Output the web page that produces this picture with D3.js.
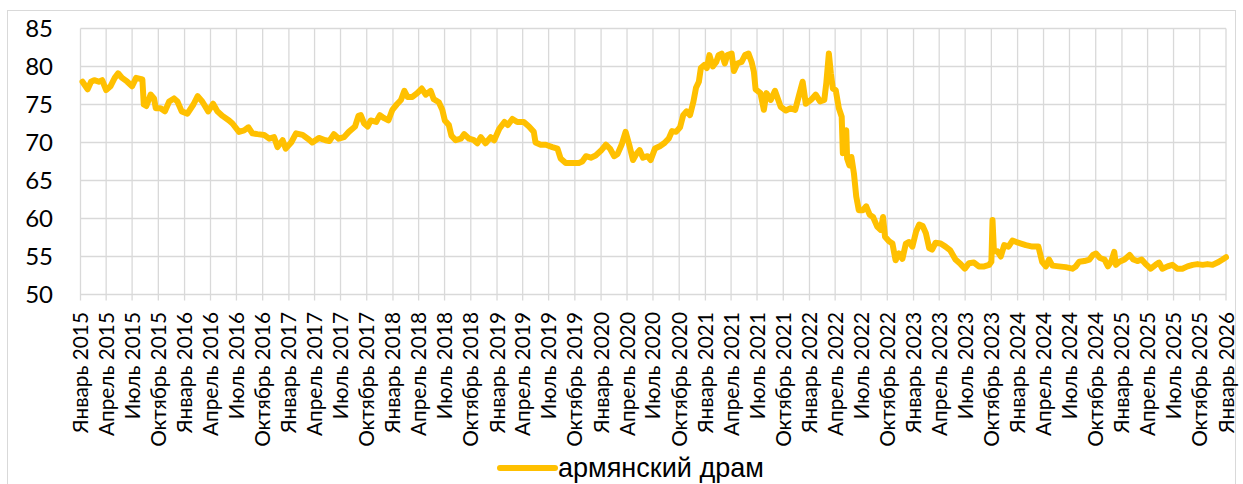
<!DOCTYPE html>
<html><head><meta charset="utf-8">
<script src="https://cdn.jsdelivr.net/npm/d3@7"></script>
<style>html,body{margin:0;padding:0;background:#fff;}svg{display:block;}</style>
</head><body>
<svg id="chart" width="1243" height="484"></svg>
<script>
const seriesName = "армянский драм";
const monthNames = ["Январь","Апрель","Июль","Октябрь"];
const yTicks = [50,55,60,65,70,75,80,85];
const dates = ["2015-01-08","2015-01-26","2015-02-07","2015-02-18","2015-03-06","2015-03-18","2015-04-01","2015-04-16","2015-05-01","2015-05-13","2015-05-27","2015-06-14","2015-07-01","2015-07-15","2015-08-06","2015-08-11","2015-08-20","2015-09-04","2015-09-16","2015-09-22","2015-10-09","2015-10-24","2015-11-08","2015-11-25","2015-12-07","2015-12-22","2016-01-11","2016-02-01","2016-02-16","2016-03-03","2016-03-24","2016-04-10","2016-04-25","2016-05-13","2016-06-05","2016-06-17","2016-07-10","2016-07-28","2016-08-12","2016-08-26","2016-09-13","2016-10-06","2016-10-24","2016-11-10","2016-11-22","2016-12-10","2016-12-21","2017-01-09","2017-01-26","2017-02-18","2017-03-12","2017-03-24","2017-04-16","2017-05-09","2017-05-23","2017-06-08","2017-06-25","2017-07-13","2017-07-30","2017-08-21","2017-09-02","2017-09-10","2017-09-22","2017-10-04","2017-10-15","2017-11-03","2017-11-16","2017-12-01","2017-12-16","2017-12-30","2018-01-14","2018-01-29","2018-02-10","2018-02-21","2018-03-10","2018-03-27","2018-04-12","2018-04-26","2018-05-13","2018-05-24","2018-06-11","2018-06-23","2018-07-02","2018-07-16","2018-07-25","2018-08-09","2018-08-27","2018-09-08","2018-09-25","2018-10-12","2018-10-24","2018-11-05","2018-11-22","2018-12-10","2018-12-22","2019-01-09","2019-01-27","2019-02-08","2019-02-24","2019-03-13","2019-04-05","2019-04-23","2019-05-10","2019-05-16","2019-06-03","2019-06-21","2019-07-14","2019-08-01","2019-08-12","2019-08-30","2019-09-22","2019-10-15","2019-10-27","2019-11-09","2019-11-26","2019-12-13","2019-12-31","2020-01-18","2020-02-01","2020-02-16","2020-02-28","2020-03-13","2020-03-27","2020-04-08","2020-04-22","2020-05-04","2020-05-15","2020-05-27","2020-06-12","2020-06-23","2020-07-08","2020-07-25","2020-08-09","2020-08-25","2020-09-06","2020-09-20","2020-10-04","2020-10-15","2020-10-27","2020-11-08","2020-11-20","2020-11-29","2020-12-09","2020-12-16","2020-12-28","2021-01-06","2021-01-15","2021-01-27","2021-02-08","2021-02-16","2021-02-27","2021-03-10","2021-03-19","2021-04-03","2021-04-11","2021-04-23","2021-05-08","2021-05-20","2021-06-01","2021-06-12","2021-06-20","2021-06-26","2021-07-13","2021-07-25","2021-08-03","2021-08-18","2021-09-02","2021-09-22","2021-10-10","2021-10-27","2021-11-12","2021-11-26","2021-12-08","2021-12-19","2022-01-06","2022-01-23","2022-02-07","2022-02-22","2022-03-01","2022-03-10","2022-03-17","2022-03-24","2022-04-03","2022-04-14","2022-04-24","2022-04-28","2022-05-05","2022-05-10","2022-05-13","2022-05-21","2022-05-28","2022-06-06","2022-06-14","2022-06-23","2022-07-07","2022-07-19","2022-07-31","2022-08-12","2022-08-27","2022-09-08","2022-09-16","2022-09-23","2022-10-07","2022-10-19","2022-10-30","2022-11-11","2022-11-23","2022-12-05","2022-12-16","2022-12-28","2023-01-10","2023-01-21","2023-02-02","2023-02-13","2023-02-25","2023-03-07","2023-03-19","2023-04-06","2023-04-23","2023-05-10","2023-05-28","2023-06-15","2023-06-30","2023-07-14","2023-08-01","2023-08-18","2023-09-06","2023-09-23","2023-10-01","2023-10-05","2023-10-10","2023-10-22","2023-11-03","2023-11-15","2023-11-30","2023-12-14","2023-12-28","2024-01-13","2024-01-30","2024-02-22","2024-03-14","2024-03-27","2024-04-09","2024-04-20","2024-05-02","2024-05-25","2024-06-18","2024-07-11","2024-07-23","2024-08-04","2024-08-22","2024-09-09","2024-09-21","2024-10-02","2024-10-16","2024-11-01","2024-11-13","2024-11-24","2024-12-05","2024-12-11","2024-12-23","2025-01-10","2025-01-28","2025-02-10","2025-02-24","2025-03-11","2025-03-25","2025-04-12","2025-04-29","2025-05-11","2025-05-23","2025-06-10","2025-06-27","2025-07-14","2025-08-01","2025-08-19","2025-09-06","2025-09-23","2025-10-11","2025-10-28","2025-11-15","2025-12-02","2025-12-20","2026-01-01"];
const values = [78.0,77.0,78.0,78.2,78.0,78.2,76.9,77.4,78.5,79.1,78.5,78.0,77.4,78.5,78.3,75.0,74.8,76.3,75.8,74.5,74.5,74.1,75.4,75.8,75.4,74.1,73.8,75.0,76.1,75.4,74.1,75.1,74.1,73.5,72.9,72.5,71.4,71.6,72.0,71.2,71.1,71.0,70.5,70.7,69.4,70.3,69.2,70.0,71.2,71.0,70.4,70.0,70.6,70.3,70.2,71.1,70.5,70.7,71.4,72.1,73.5,73.6,72.5,72.1,72.9,72.7,73.6,73.2,72.9,74.3,75.0,75.6,76.8,76.0,76.0,76.5,77.1,76.3,76.8,75.7,75.3,74.3,72.9,72.3,70.9,70.3,70.5,71.1,70.5,70.3,69.9,70.7,69.9,70.7,70.3,71.8,72.7,72.3,73.1,72.7,72.7,72.1,71.4,70.0,69.7,69.7,69.4,69.2,67.9,67.3,67.3,67.3,67.5,68.2,68.0,68.3,68.9,69.7,69.2,68.2,68.5,69.7,71.4,69.8,67.7,68.5,69.0,68.0,68.2,67.7,69.2,69.5,69.9,70.5,71.5,71.4,72.0,73.6,74.1,73.6,75.4,77.2,78.0,79.8,80.2,79.8,81.5,80.0,80.6,81.5,81.7,80.4,81.5,81.7,79.4,80.4,80.6,81.5,81.7,80.6,79.3,77.0,76.5,74.3,76.5,75.6,76.8,74.7,74.2,74.5,74.3,76.3,78.0,75.1,75.6,76.3,75.4,75.6,77.8,81.7,79.1,77.1,76.9,74.5,73.4,68.6,70.3,71.6,67.9,67.0,68.1,65.9,62.9,61.1,61.1,61.6,60.5,60.2,58.9,58.5,60.2,57.6,57.0,56.7,54.5,55.4,54.7,56.7,56.9,56.3,58.3,59.2,59.0,58.1,56.1,55.9,56.8,56.7,56.3,55.8,54.6,54.0,53.4,54.1,54.2,53.7,53.7,53.9,54.3,59.8,55.7,55.7,55.0,56.5,56.3,57.1,56.9,56.7,56.5,56.3,56.3,54.3,53.7,54.6,53.8,53.7,53.6,53.4,53.7,54.3,54.4,54.6,55.2,55.4,54.8,54.6,53.7,54.3,55.6,53.9,54.3,54.6,55.2,54.6,54.4,54.6,54.0,53.4,53.9,54.2,53.4,53.7,53.9,53.4,53.4,53.7,53.9,54.0,53.9,54.0,53.9,54.2,54.6,54.9];

const parse = d3.timeParse("%Y-%m-%d");
const data = dates.map((d,i)=>({date:parse(d), value:values[i]}));

const svg = d3.select("#chart");
const font = "Lato, 'Open Sans', sans-serif";
const mLeft = 80.5, mRight = 1226, mTop = 28.5, mBottom = 294.5;

// outer border
svg.append("rect").attr("x",7.5).attr("y",10.5).attr("width",1228).attr("height",480)
  .attr("fill","none").attr("stroke","#D9D9D9").attr("stroke-width",1);

const x = d3.scaleTime().domain([new Date(2015,0,1), new Date(2026,0,1)]).range([mLeft,mRight]);
const y = d3.scaleLinear().domain([50,85]).range([mBottom,mTop]);

const xTickDates = d3.timeMonth.every(3).range(new Date(2015,0,1), new Date(2026,0,2));

// horizontal grid
svg.append("g").selectAll("line").data(yTicks).join("line")
  .attr("x1",mLeft).attr("x2",mRight).attr("y1",d=>y(d)).attr("y2",d=>y(d))
  .attr("stroke","#D9D9D9").attr("stroke-width",1.3);
// vertical grid + tick marks
svg.append("g").selectAll("line").data(xTickDates).join("line")
  .attr("x1",d=>x(d)).attr("x2",d=>x(d)).attr("y1",mTop).attr("y2",mBottom+6)
  .attr("stroke","#D9D9D9").attr("stroke-width",1.3);

// y labels
svg.append("g").selectAll("text").data(yTicks).join("text")
  .attr("x",53).attr("y",d=>y(d)).attr("dy","0.35em").attr("text-anchor","end")
  .attr("font-family",font).attr("font-size",24).attr("fill","#000").text(d=>d);

// x labels (size fitted so that "Октябрь 2015" spans ~135px as in the reference)
const xl = svg.append("g").selectAll("text").data(xTickDates).join("text")
  .attr("transform",d=>`translate(${x(d)+7.5},312) rotate(-90)`)
  .attr("text-anchor","end").attr("font-family",font).attr("font-size",20).attr("fill","#000")
  .text(d=>monthNames[Math.floor(d.getMonth()/3)]+" "+d.getFullYear());
const refLen = xl.nodes()[3].getComputedTextLength();
xl.attr("font-size", 20*135/refLen);

// line
const line = d3.line().x(d=>x(d.date)).y(d=>y(d.value)).curve(d3.curveLinear);
svg.append("path").datum(data).attr("d",line).attr("fill","none")
  .attr("stroke","#FFC000").attr("stroke-width",6).attr("stroke-linejoin","round").attr("stroke-linecap","round");

// legend
svg.append("line").attr("x1",500).attr("x2",555).attr("y1",468).attr("y2",468)
  .attr("stroke","#FFC000").attr("stroke-width",6).attr("stroke-linecap","round");
const lt = svg.append("text").attr("x",558).attr("y",468).attr("dy","0.33em")
  .attr("font-family","'Liberation Sans', Arial, sans-serif").attr("font-size",22).attr("fill","#000").text(seriesName);
const lLen = lt.node().getComputedTextLength();
lt.attr("font-size", 22*206/lLen);
</script>
</body></html>
